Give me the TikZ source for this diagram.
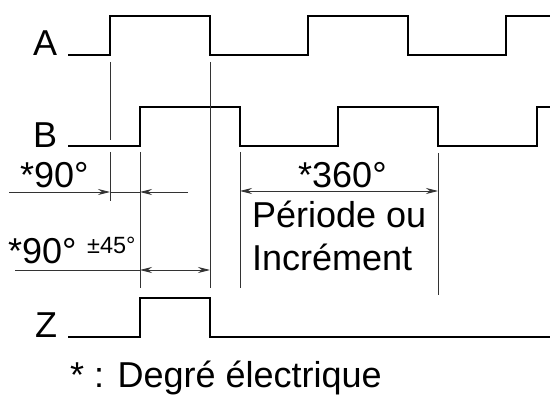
\documentclass[tikz,border=0pt]{standalone}
\usepackage{fontspec}
\setmainfont{Liberation Sans}
\usetikzlibrary{arrows.meta}
\begin{document}
\begin{tikzpicture}[x=1pt,y=-1pt,
  wave/.style={line width=2.8pt, line join=miter, black},
  guide/.style={line width=0.9pt, black!80},
  dim/.style={line width=0.9pt, black!80},
  tip/.style={-{Stealth[length=12pt,width=6pt,inset=4pt]}},
  tips/.style={{Stealth[length=12pt,width=6pt,inset=4pt]}-{Stealth[length=12pt,width=6pt,inset=4pt]}},
  lbl/.style={inner sep=0pt, anchor=base west, font=\fontsize{36}{40}\selectfont},
  small/.style={inner sep=0pt, anchor=base west, font=\fontsize{23.5}{26}\selectfont}]
\useasboundingbox (0,0) rectangle (550,396);
% waveforms
\draw[wave] (68,55) -- (110,55) -- (110,16) -- (210,16) -- (210,55) -- (308,55) -- (308,16) -- (408,16) -- (408,55) -- (506,55) -- (506,16) -- (551,16);
\draw[wave] (68,146) -- (140,146) -- (140,107) -- (240,107) -- (240,146) -- (338,146) -- (338,107) -- (438,107) -- (438,146) -- (537,146) -- (537,107) -- (551,107);
\draw[wave] (68,337) -- (140,337) -- (140,298) -- (210,298) -- (210,337) -- (551,337);
% guide lines
\coordinate (g1a) at (110,62); \coordinate (g1b) at (110,140);
\coordinate (g1c) at (110,152); \coordinate (g1d) at (110,201);
\coordinate (g2a) at (140,152); \coordinate (g2b) at (140,288);
\coordinate (g3a) at (210,62); \coordinate (g3b) at (210,288);
\coordinate (g4a) at (240,152); \coordinate (g4b) at (240,288);
\coordinate (g5a) at (438,153); \coordinate (g5b) at (438,295);
\draw[guide] (g1a) -- (g1b);
\draw[guide] (g1c) -- (g1d);
\draw[guide] (g2a) -- (g2b);
\draw[guide] (g3a) -- (g3b);
\draw[guide] (g4a) -- (g4b);
\draw[guide] (g5a) -- (g5b);
% dimension arrows
\coordinate (d1s) at (9,192); \coordinate (d1a) at (110,192);
\coordinate (d1b) at (140,192); \coordinate (d1e) at (188,192);
\draw[dim,tip] (d1s) -- (d1a);
\draw[dim] (d1a) -- (d1b);
\draw[dim,tip] (d1e) -- (d1b);
\coordinate (d2a) at (240,191); \coordinate (d2b) at (438,191);
\draw[dim,tips] (d2a) -- (d2b);
\coordinate (d3s) at (15,270); \coordinate (d3a) at (140,270); \coordinate (d3b) at (210,270);
\draw[dim] (d3s) -- (d3a);
\draw[dim,tips] (d3a) -- (d3b);
% labels
\node[lbl] (la) at (33,56) {A};
\node[lbl] (lb) at (33,148) {B};
\node[lbl] (lz) at (35,337) {Z};
\node[lbl] (n90) at (20,187) {*90°};
\node[lbl] (n360) at (298,187) {*360°};
\node[lbl] (per) at (252,228) {Période ou};
\node[lbl] (inc) at (252,270) {Incrément};
\node[lbl] (n90b) at (8,263) {*90°};
\node[small] (n45) at (87,253) {±45°};
\node[lbl] (note) at (70,387.5) {* : Degré électrique};
\end{tikzpicture}
\end{document}
